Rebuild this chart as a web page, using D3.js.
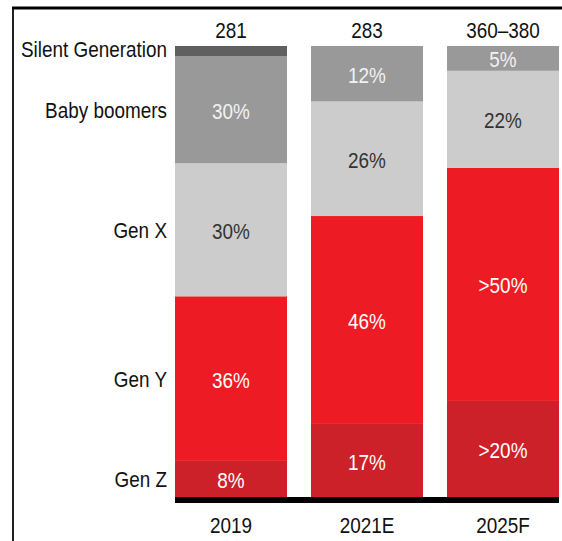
<!DOCTYPE html>
<html>
<head>
<meta charset="utf-8">
<script src="https://cdn.jsdelivr.net/npm/d3@7"></script>
<style>
  body { margin: 0; background: #fff; }
  text { font-family: "Liberation Sans", Arial, sans-serif; }
</style>
</head>
<body>
<div id="viz"></div>
<script>
// categories, bottom to top of the stack
const years = ["2019", "2021E", "2025F"];
const totals = ["281", "283", "360–380"];
const generations = ["Gen Z", "Gen Y", "Gen X", "Baby boomers", "Silent Generation"];

// share of each bar as drawn (%)
const genZ = [8, 16.2, 21.3];
const genY = [36.5, 46.1, 51.7];
const genX = [29.5, 25.4, 21.5];
const boomers = [23.7, 12.3, 5.5];
const silent = [2.3, 0, 0];

// labels printed on the segments
const labZ = ["8%", "17%", ">20%"];
const labY = ["36%", "46%", ">50%"];
const labX = ["30%", "26%", "22%"];
const labB = ["30%", "12%", "5%"];
const labS = ["", "", ""];

const series = [genZ, genY, genX, boomers, silent];
const labels = [labZ, labY, labX, labB, labS];
const colors = ["#cc2129", "#ed1c24", "#cccccc", "#999999", "#606060"];
const textColors = ["#fff", "#fff", "#333", "#f2f2f2", "#fff"];

const width = 562, height = 541;
const squish = 0.86;

const table = years.map((y, i) => {
  const row = { year: y };
  generations.forEach((g, k) => row[g] = series[k][i]);
  return row;
});
const stacked = d3.stack().keys(generations)(table);

const x = d3.scaleBand().domain(years).range([175, 559]).paddingInner(0.1765).paddingOuter(0);
const y = d3.scaleLinear().domain([0, 100]).range([497, 46]);

const svg = d3.select("#viz").append("svg")
  .attr("width", width)
  .attr("height", height);

// frame lines
svg.append("line").attr("x1", 13).attr("x2", 13).attr("y1", 8).attr("y2", height)
  .attr("stroke", "#222").attr("stroke-width", 2);
svg.append("line").attr("x1", 12).attr("x2", width).attr("y1", 8).attr("y2", 8)
  .attr("stroke", "#000").attr("stroke-width", 3);

function txt(g, px, py, s, anchor, color) {
  return g.append("text")
    .attr("transform", `translate(${px},${py}) scale(${squish},1)`)
    .attr("text-anchor", anchor)
    .attr("dominant-baseline", "central")
    .attr("font-size", 22)
    .attr("fill", color)
    .text(s);
}

const layers = svg.selectAll("g.layer")
  .data(stacked)
  .join("g")
  .attr("class", "layer")
  .attr("fill", (d, k) => colors[k]);

layers.selectAll("rect")
  .data(d => d)
  .join("rect")
  .attr("x", d => x(d.data.year))
  .attr("width", x.bandwidth())
  .attr("y", d => y(d[1]))
  .attr("height", d => y(d[0]) - y(d[1]));

// segment labels
stacked.forEach((layer, k) => {
  layer.forEach((d, i) => {
    if (!labels[k][i]) return;
    txt(svg, x(d.data.year) + x.bandwidth() / 2, (y(d[0]) + y(d[1])) / 2 + 1, labels[k][i], "middle", textColors[k]);
  });
});

// generation names, next to first bar
stacked.forEach((layer, k) => {
  const d = layer[0];
  let cy = (y(d[0]) + y(d[1])) / 2;
  if (k === generations.length - 1) cy -= 2;
  txt(svg, 167, cy, generations[k], "end", "#111");
});

// baseline
svg.append("rect")
  .attr("x", x(years[0]))
  .attr("y", y(0))
  .attr("width", x(years[years.length - 1]) + x.bandwidth() - x(years[0]))
  .attr("height", 6)
  .attr("fill", "#000");

// totals and year axis
years.forEach((yr, i) => {
  const cx = x(yr) + x.bandwidth() / 2;
  txt(svg, cx, 30, totals[i], "middle", "#111");
  txt(svg, cx, 525, yr, "middle", "#111");
});
</script>
</body>
</html>
